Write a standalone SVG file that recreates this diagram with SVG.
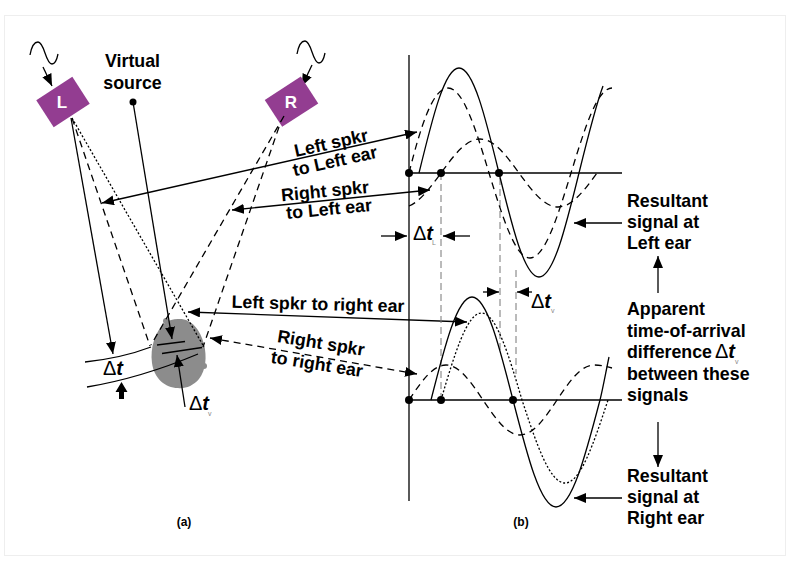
<svg xmlns="http://www.w3.org/2000/svg" width="790" height="565" viewBox="0 0 790 565">
<defs>
<marker id="ah" viewBox="0 0 12 10" refX="12" refY="5" markerWidth="12" markerHeight="10" markerUnits="userSpaceOnUse" orient="auto-start-reverse"><path d="M0,0 L12,5 L0,10 z" fill="#000"/></marker>
<style>
.t{font-family:"Liberation Sans",Arial,sans-serif;font-weight:bold;font-size:17.8px;fill:#000}
.ln{stroke:#000;stroke-width:1.3;fill:none}
.da{stroke-dasharray:7 5}
.do{stroke-dasharray:2 2}
.vd{stroke:#777;stroke-width:1;stroke-dasharray:7 4;fill:none}
.spk{fill:#933d91}
.spt{font-family:"Liberation Sans",Arial,sans-serif;font-weight:bold;font-size:17px;fill:#fff;text-anchor:middle}
.dt{font-family:"Liberation Sans",Arial,sans-serif;font-size:20px;fill:#000}
.ti{font-style:italic;font-weight:bold}
.sub{font-family:"Liberation Sans",Arial,sans-serif;font-size:7px;fill:#888}
.cap{font-family:"Liberation Sans",Arial,sans-serif;font-size:12px;font-weight:bold;fill:#000;text-anchor:middle}
.mid{text-anchor:middle}
.dot{fill:#000}
</style>
</defs>
<rect width="790" height="565" fill="#fff"/>
<rect x="4.5" y="15.5" width="781" height="540" fill="none" stroke="#eeeeee"/>

<g id="speakerL">
<path class="ln" d="M30,55 C32,44 35,42 38,42 C41,42 43,47 45,53 C47,59 49,64 52,64 C55,64 57,59 58,54"/>
<line class="ln" x1="43" y1="67" x2="52" y2="86" marker-end="url(#ah)"/>
<rect class="spk" x="41.5" y="86" width="43" height="32" transform="rotate(-33 63 102)"/>
<text class="spt" x="62" y="108">L</text>
</g>

<g id="speakerR">
<path class="ln" d="M297,54 C299,43 302,41 305,41 C308,41 310,46 312,52 C314,58 316,63 319,63 C322,63 324,58 325,53"/>
<line class="ln" x1="312" y1="65" x2="302" y2="86" marker-end="url(#ah)"/>
<rect class="spk" x="270" y="85.7" width="43" height="32" transform="rotate(-33 291.5 101.7)"/>
<text class="spt" x="291" y="108">R</text>
</g>

<g id="virtualSource">
<text class="t mid" x="132.5" y="67">Virtual</text>
<text class="t mid" x="132.5" y="89">source</text>
<circle class="dot" cx="133" cy="102" r="3.5"/>
</g>

<g id="head">
<path d="M178,319 C191,318 200,329 204,344 C207,357 206,370 199,379 C193,386 185,389 178,388 C165,388 154,378 152,363 C150,348 155,331 165,323 C169,320 173,319 178,319 Z" fill="#8c8c8c"/>
<circle cx="166" cy="321" r="3" fill="#8c8c8c"/>
<circle cx="204" cy="366" r="3" fill="#8c8c8c"/>
<path class="ln" d="M85,362 Q122,358 151,347"/>
<path class="ln" d="M87,387 Q141,378 198,354"/>
<line class="ln" x1="157" y1="345" x2="185" y2="341.5"/>
<line class="ln" x1="162" y1="353.5" x2="202" y2="347.5"/>
</g>

<g id="connectors">
<line class="ln" x1="71" y1="118" x2="113" y2="354" marker-end="url(#ah)"/>
<line class="ln da" x1="72" y1="118" x2="150" y2="346"/>
<line class="ln do" x1="72" y1="118" x2="204" y2="347"/>
<line class="ln da" x1="284" y1="116" x2="151" y2="345"/>
<line class="ln da" x1="279" y1="127" x2="203" y2="347"/>
<line class="ln" x1="133" y1="102" x2="172" y2="339" marker-end="url(#ah)"/>
<line class="ln" x1="185" y1="407" x2="177" y2="355" marker-end="url(#ah)"/>
<polygon points="121.5,382 115.5,392 119,392 119,399 124,399 124,392 127.5,392" fill="#000"/>
<line class="ln" x1="102" y1="203" x2="417" y2="132" marker-start="url(#ah)" marker-end="url(#ah)"/>
<line class="ln" x1="232" y1="210" x2="430" y2="190" marker-start="url(#ah)" marker-end="url(#ah)"/>
<line class="ln" x1="188" y1="312" x2="467" y2="322" marker-start="url(#ah)" marker-end="url(#ah)"/>
<line class="ln da" x1="210" y1="338" x2="417" y2="374" marker-start="url(#ah)" marker-end="url(#ah)"/>
<line class="ln" x1="622" y1="223" x2="574" y2="223" marker-end="url(#ah)"/>
<line class="ln" x1="658" y1="293" x2="658" y2="256" marker-end="url(#ah)"/>
<line class="ln" x1="658" y1="422" x2="658" y2="467" marker-end="url(#ah)"/>
<line class="ln" x1="622" y1="498" x2="574" y2="498" marker-end="url(#ah)"/>
<line class="ln" x1="381" y1="236" x2="407" y2="236" marker-end="url(#ah)"/>
<line class="ln" x1="470" y1="236" x2="443" y2="236" marker-end="url(#ah)"/>
<line class="ln" x1="483" y1="292" x2="499" y2="292" marker-end="url(#ah)"/>
<line class="ln" x1="532" y1="292" x2="517" y2="292" marker-end="url(#ah)"/>
</g>

<g id="plot">
<line class="ln" x1="409" y1="55" x2="409" y2="501"/>
<line class="ln" x1="409" y1="173" x2="622" y2="173"/>
<line class="ln" x1="409" y1="400" x2="622" y2="400"/>
<line class="vd" x1="441" y1="173" x2="441" y2="400"/>
<line class="vd" x1="500" y1="178" x2="500" y2="352"/>
<line class="vd" x1="516" y1="270" x2="516" y2="374"/>
<path class="ln" d="M419,173 C432.4,117.9 444.6,68 459,68 C473.4,68 485.6,117.9 499,173 C512.4,227.6 524.6,277 539,277 C553.4,277 565.6,227.6 579,173 C587,140.4 595,108 603,86"/>
<path class="ln da" d="M409,173 C421,125 433,88 448,88 C463,88 475.6,128.4 489,173 C502.7,217.6 515.2,258 530,258 C544.8,258 557.3,217.6 571,173 C584.7,128.4 597.2,88 612,88"/>
<path class="ln da" d="M409,206 C419.7,201.9 430.3,187.7 441,173 C454,155.2 466,139 480,139 C494,139 506,155.2 519,173 C532,190.8 544,207 558,207 C572,207 584,190.8 597,173"/>
<path class="ln" d="M431,400 C444.7,346 457.2,297 472,297 C486.8,297 499.3,346 513,400 C527.4,456.2 540.5,507 556,507 C571.8,507 585.3,456.2 600,400 C603,388 606,371 609,357"/>
<path class="ln do" d="M441,400 C454.5,354.3 466.9,313 481.5,313 C496.1,313 508.5,354.3 522,400 C536.4,443.6 549.5,483 565,483 C580.5,483 593.6,443.6 608,400"/>
<path class="ln da" d="M409,400 C421.4,381.6 432.7,365 446,365 C459.3,365 470.6,381.6 483,400 C495.4,418.4 506.7,435 520,435 C533.3,435 544.6,418.4 557,400 C569.4,381.6 580.7,365 594,365 C600,365 606,366.5 612,368"/>
<circle class="dot" cx="409" cy="173" r="4"/>
<circle class="dot" cx="441" cy="173" r="4"/>
<circle class="dot" cx="499" cy="173" r="4"/>
<circle class="dot" cx="409" cy="400" r="4"/>
<circle class="dot" cx="441" cy="400" r="4"/>
<circle class="dot" cx="513" cy="400" r="4"/>
</g>

<g id="pathLabels">
<text class="t mid" x="331" y="149" transform="rotate(-12.5 331 143)">Left spkr</text>
<text class="t mid" x="335" y="167" transform="rotate(-12.5 335 161)">to Left ear</text>
<text class="t mid" x="325" y="197" transform="rotate(-5.5 325 191)">Right spkr</text>
<text class="t mid" x="329" y="215" transform="rotate(-5.5 329 209)">to Left ear</text>
<text class="t mid" x="318" y="310" transform="rotate(1.5 318 305)">Left spkr to right ear</text>
<text class="t mid" x="321" y="349" transform="rotate(9 321 343)">Right spkr</text>
<text class="t mid" x="317" y="370" transform="rotate(9 317 364)">to right ear</text>
</g>

<g id="deltaLabels">
<text class="dt" x="103" y="375">Δ<tspan class="ti">t</tspan></text>
<text class="dt" x="189" y="410">Δ<tspan class="ti">t</tspan></text>
<text class="sub" x="208" y="416">v</text>
<text class="dt" x="413" y="240">Δ<tspan class="ti">t</tspan></text>
<text class="sub" x="432" y="245">L</text>
<text class="dt" x="531" y="308">Δ<tspan class="ti">t</tspan></text>
<text class="sub" x="551" y="313">v</text>
</g>

<g id="rightLabels">
<text class="t" x="627" y="207">Resultant</text>
<text class="t" x="627" y="228">signal at</text>
<text class="t" x="627" y="249">Left ear</text>
<text class="t" x="627" y="315">Apparent</text>
<text class="t" x="627" y="337">time-of-arrival</text>
<text class="t" x="627" y="358">difference</text>
<text class="dt" x="715" y="358">Δ<tspan class="ti">t</tspan></text>
<text class="sub" x="735" y="364">v</text>
<text class="t" x="627" y="380">between these</text>
<text class="t" x="627" y="401">signals</text>
<text class="t" x="627" y="482">Resultant</text>
<text class="t" x="627" y="503">signal at</text>
<text class="t" x="627" y="524">Right ear</text>
</g>

<g id="captions">
<text class="cap" x="184" y="526">(a)</text>
<text class="cap" x="521" y="526">(b)</text>
</g>
</svg>
